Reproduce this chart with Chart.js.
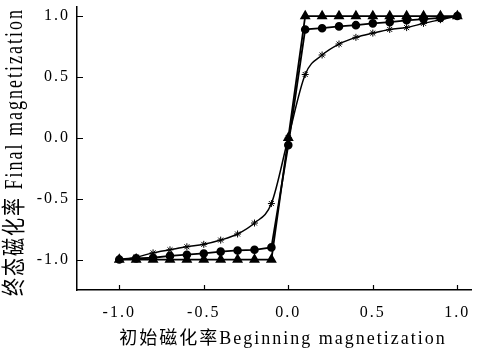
<!DOCTYPE html>
<html>
<head>
<meta charset="utf-8">
<script src="https://cdn.jsdelivr.net/npm/chart.js@4/dist/chart.umd.min.js"></script>
<style>
  html, body { margin: 0; padding: 0; background: #fff; }
  #wrap { width: 478px; height: 356px; }
</style>
</head>
<body>
<div id="wrap"><canvas id="chart" width="478" height="356"></canvas></div>
<script>
// initial magnetization (x) for every sample
const xVals = [-1.0, -0.9, -0.8, -0.7, -0.6, -0.5, -0.4, -0.3, -0.2, -0.1, 0.0,
               0.1, 0.2, 0.3, 0.4, 0.5, 0.6, 0.7, 0.8, 0.9, 1.0];
// final magnetization, three curves
const triangleVals = [-1, -1, -1, -1, -1, -1, -1, -1, -1, -1, 0,
                      1, 1, 1, 1, 1, 1, 1, 1, 1, 1];
const circleVals = [-1.0, -0.99, -0.985, -0.97, -0.96, -0.95, -0.935, -0.925, -0.92, -0.9, -0.06,
                    0.89, 0.9, 0.915, 0.925, 0.94, 0.95, 0.965, 0.975, 0.985, 1.0];
const starVals = [-1.0, -0.98, -0.945, -0.92, -0.895, -0.875, -0.84, -0.79, -0.7, -0.54, 0.0,
                  0.52, 0.68, 0.77, 0.825, 0.86, 0.89, 0.905, 0.94, 0.97, 1.0];

const xTicks = [-1.0, -0.5, 0.0, 0.5, 1.0];
const yTicks = [-1.0, -0.5, 0.0, 0.5, 1.0];
const xTitle = '初始磁化率Beginning magnetization';
const yTitle = '终态磁化率 Final magnetization';

const serif = '"Liberation Serif", "Noto Sans CJK SC", serif';
Chart.defaults.font.family = serif;
Chart.defaults.color = '#000';

function pts(vals) {
  return xVals.map((x, i) => ({ x: x, y: vals[i] }));
}

// spaced-out lettering like the original figure
const spacing = {
  id: 'spacing',
  beforeUpdate(chart) { chart.ctx.letterSpacing = '2px'; },
  beforeDraw(chart) { chart.ctx.letterSpacing = '2px'; }
};

// tick marks pointing into the plot, and both axis titles
const axisExtras = {
  id: 'axisExtras',
  afterDraw(chart) {
    const ctx = chart.ctx;
    const xs = chart.scales.x, ys = chart.scales.y;
    const area = chart.chartArea;
    ctx.save();
    ctx.strokeStyle = '#000';
    ctx.lineWidth = 1.2;
    ctx.beginPath();
    xTicks.forEach(v => {
      const px = Math.round(xs.getPixelForValue(v)) + 0.5;
      ctx.moveTo(px, area.bottom);
      ctx.lineTo(px, area.bottom - 5);
    });
    yTicks.forEach(v => {
      const py = Math.round(ys.getPixelForValue(v)) + 0.5;
      ctx.moveTo(area.left, py);
      ctx.lineTo(area.left + 6, py);
    });
    ctx.stroke();
    ctx.restore();

    ctx.save();
    ctx.font = '18px ' + serif;
    ctx.letterSpacing = '2px';
    ctx.fillStyle = '#000';
    ctx.textAlign = 'center';
    ctx.textBaseline = 'middle';
    ctx.fillText(xTitle, 283, 339);
    ctx.translate(16, 152);
    ctx.rotate(-Math.PI / 2);
    ctx.scale(1, 1.35);
    ctx.fillText(yTitle, 0, 0);
    ctx.restore();
  }
};

new Chart(document.getElementById('chart'), {
  type: 'line',
  data: {
    datasets: [
      {
        label: 'star',
        data: pts(starVals),
        borderColor: '#000',
        backgroundColor: '#000',
        borderWidth: 1.5,
        pointStyle: 'star',
        pointRadius: 3.5,
        pointBorderWidth: 1,
        cubicInterpolationMode: 'monotone'
      },
      {
        label: 'circle',
        data: pts(circleVals),
        borderColor: '#000',
        backgroundColor: '#000',
        borderWidth: 1.8,
        pointStyle: 'circle',
        pointRadius: 3.4,
        tension: 0
      },
      {
        label: 'triangle',
        data: pts(triangleVals),
        borderColor: '#000',
        backgroundColor: '#000',
        borderWidth: 1.8,
        pointStyle: 'triangle',
        pointRadius: 4.5,
        tension: 0
      }
    ]
  },
  options: {
    responsive: false,
    animation: false,
    layout: { padding: { top: 2, right: 6, left: 0, bottom: 0 } },
    plugins: { legend: { display: false }, tooltip: { enabled: false } },
    scales: {
      x: {
        type: 'linear',
        min: -1.25,
        max: 1.085,
        afterBuildTicks: s => { s.ticks = xTicks.map(v => ({ value: v })); },
        afterFit: s => { s.height = 66; s.paddingLeft = 0; s.paddingRight = 0; },
        grid: { drawOnChartArea: false, drawTicks: false },
        border: { color: '#000', width: 1.5 },
        ticks: {
          padding: 13,
          font: { size: 16 },
          callback: v => v.toFixed(1)
        }
      },
      y: {
        min: -1.25,
        max: 1.08,
        afterBuildTicks: s => { s.ticks = yTicks.map(v => ({ value: v })); },
        afterFit: s => { s.width = 77; s.paddingTop = 0; s.paddingBottom = 0; },
        grid: { drawOnChartArea: false, drawTicks: false },
        border: { color: '#000', width: 1.5 },
        ticks: {
          padding: 7,
          font: { size: 16 },
          callback: v => v.toFixed(1)
        }
      }
    }
  },
  plugins: [spacing, axisExtras]
});
</script>
</body>
</html>
